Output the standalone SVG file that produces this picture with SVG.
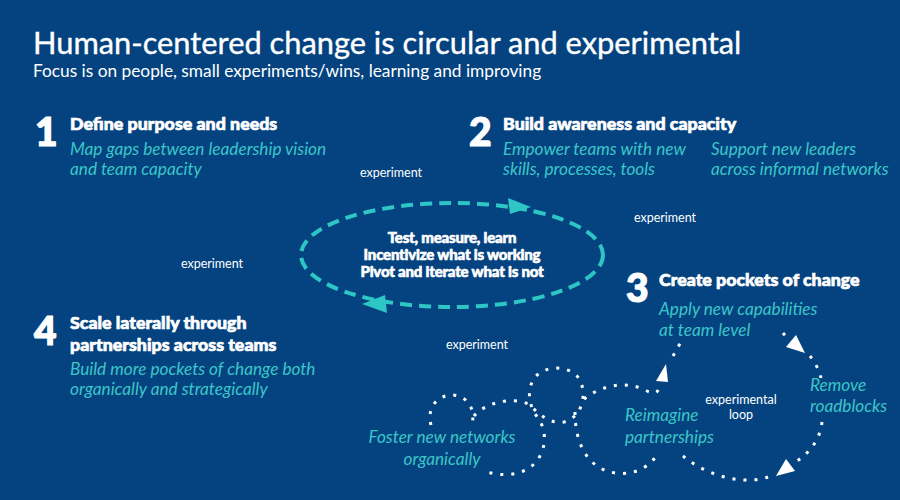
<svg xmlns="http://www.w3.org/2000/svg" width="900" height="500" viewBox="0 0 900 500">
<style>
text{font-family:Lato,"Liberation Sans",sans-serif}
.title{font-size:30.8px;fill:#fff;stroke:#fff;stroke-width:0.35}
.sub{font-size:17.3px;fill:#fff}
.num{font-size:39px;font-weight:900;fill:#fff;stroke:#fff;stroke-width:1.2}
.head{font-size:17.8px;font-weight:900;fill:#fff;stroke:#fff;stroke-width:0.7}
.desc{font-size:17.2px;font-style:italic;fill:#3cc6c8}
.lbl{font-size:12.5px;fill:#fff}
.core{font-size:15px;font-weight:900;fill:#fff;stroke:#fff;stroke-width:0.6;letter-spacing:-0.2px}
.dash{fill:none;stroke:#2ec5c5;stroke-width:4;stroke-dasharray:12 7}
.dot{fill:none;stroke:#fff;stroke-width:3;stroke-dasharray:3 8}
.ah{fill:#2ec5c5}
.wh{fill:#fff}
</style>
<rect width="900" height="500" fill="#044380"/>
<text class="title" x="33" y="54">Human-centered change is circular and experimental</text>
<text class="sub" x="33" y="77">Focus is on people, small experiments/wins, learning and improving</text>

<g id="connectors">
<ellipse class="dash" cx="452" cy="255" rx="151" ry="52"/>
<polygon class="ah" points="508,198 531,207 510,214"/>
<polygon class="ah" points="362,304 385,295 387,313"/>
<path class="dot" d="M431,425 C426,405 440,395 452,395 C466,395 476,408 472,424"/>
<path class="dot" d="M474,416 C485,403 512,396 528,404 C540,414 548,424 564,422 C580,418 588,398 580,380 C572,366 548,364 536,376 C526,388 528,405 538,418 C548,432 546,452 534,464 C520,478 495,476 482,470"/>
<path class="dot" d="M575,412 C575,440 585,468 615,473 C635,476 650,466 657,455"/>
<path class="dot" d="M584,399 C600,386 625,380 645,390 C653,394 658,396 660,384"/>
<polygon class="wh" points="656,381 668,382 666,364"/>
<path class="dot" d="M673,356 L682,340"/>
<path class="dot" d="M783,333 L788,339"/>
<polygon class="wh" points="786,347 796,335 805,353"/>
<path class="dot" d="M810,356 C815,362 819,370 821,378"/>
<path class="dot" d="M822,422 C820,440 810,452 797,461"/>
<polygon class="wh" points="776,476 786,459 795,471"/>
<path class="dot" d="M768,477 C750,484 712,480 683,456"/>
</g>

<g id="core">
<text class="core" x="452" y="243" text-anchor="middle">Test, measure, learn</text>
<text class="core" x="452" y="260" text-anchor="middle">Incentivize what is working</text>
<text class="core" x="452" y="277" text-anchor="middle">Pivot and iterate what is not</text>
</g>

<g id="step1">
<text class="num" x="35" y="146">1</text>
<text class="head" x="70" y="130">Define purpose and needs</text>
<text class="desc" x="70" y="155">Map gaps between leadership vision</text>
<text class="desc" x="70" y="175">and team capacity</text>
</g>
<g id="step2">
<text class="num" x="469" y="146">2</text>
<text class="head" x="503" y="130">Build awareness and capacity</text>
<text class="desc" x="503" y="155">Empower teams with new</text>
<text class="desc" x="503" y="175">skills, processes, tools</text>
<text class="desc" x="711" y="155">Support new leaders</text>
<text class="desc" x="711" y="175">across informal networks</text>
</g>
<g id="step3">
<text class="num" x="626" y="302">3</text>
<text class="head" x="659" y="286">Create pockets of change</text>
<text class="desc" x="659" y="315">Apply new capabilities</text>
<text class="desc" x="659" y="336">at team level</text>
</g>
<g id="step4">
<text class="num" x="34" y="345">4</text>
<text class="head" x="70" y="329">Scale laterally through</text>
<text class="head" x="70" y="351">partnerships across teams</text>
<text class="desc" x="70" y="375">Build more pockets of change both</text>
<text class="desc" x="70" y="395">organically and strategically</text>
</g>

<g id="labels">
<text class="lbl" x="391" y="177" text-anchor="middle">experiment</text>
<text class="lbl" x="665" y="222" text-anchor="middle">experiment</text>
<text class="lbl" x="212" y="268" text-anchor="middle">experiment</text>
<text class="lbl" x="477" y="349" text-anchor="middle">experiment</text>
<text class="lbl" x="741" y="404" text-anchor="middle">experimental</text>
<text class="lbl" x="741" y="419" text-anchor="middle">loop</text>
</g>

<g id="sub-nodes">
<text class="desc" x="442" y="443" text-anchor="middle">Foster new networks</text>
<text class="desc" x="442" y="465" text-anchor="middle">organically</text>
<text class="desc" x="625" y="421">Reimagine</text>
<text class="desc" x="625" y="443">partnerships</text>
<text class="desc" x="810" y="391">Remove</text>
<text class="desc" x="810" y="412">roadblocks</text>
</g>
</svg>
